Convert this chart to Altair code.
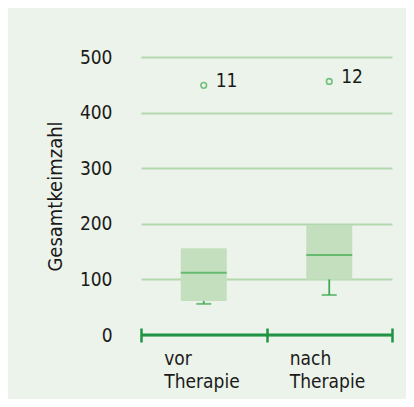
import altair as alt
import pandas as pd

# ---- data ----
groups = ["vor Therapie", "nach Therapie"]
q1 = [61, 100]
median = [112, 144]
q3 = [156, 198]
whisker_low = [56, 72]
outlier = [449, 456]
outlier_labels = ["11", "12"]
y_ticks = [0, 100, 200, 300, 400, 500]
x_edges = [0, 1, 2]

df = pd.DataFrame({
    "group": groups,
    "pos": [i + 0.5 for i in range(len(groups))],
    "q1": q1, "median": median, "q3": q3,
    "wlow": whisker_low, "out": outlier, "outlab": outlier_labels,
})
base_line = pd.DataFrame({"x0": [x_edges[0]], "x1": [x_edges[-1]], "y0": [0]})

FONT = "DejaVu Sans Condensed, sans-serif"
TXT = "#1a1a1a"
DARK = "#1f9445"
MID = "#3fab50"
GRID = "#b3d8b0"
BOXFILL = "#c4dfbd"
BG = "#ecf3ea"

xscale = alt.Scale(domain=[0, 2], nice=False, zero=False, padding=0)
yscale = alt.Scale(domain=[0, 500], nice=False, padding=0)

x_values = sorted(set(x_edges) | set(df["pos"]))
label_expr = ("datum.value == 0.5 ? split('%s', ' ') : datum.value == 1.5 ? split('%s', ' ') : ''"
              % (groups[0], groups[1]))

xaxis = alt.Axis(
    values=x_values, title=None, domain=False, grid=False, orient="bottom",
    ticks=True, tickSize=14, tickWidth=2.5, tickColor=DARK, offset=-7,
    tickOpacity=alt.ExprRef("datum.value % 1 == 0 ? 1 : 0"),
    labelExpr=label_expr, labelAlign="left", labelOffset=-40,
    labelBaseline="alphabetic", labelPadding=22, labelLineHeight=23,
    labelFont=FONT, labelFontSize=19, labelColor=TXT, labelOverlap=False,
    labelBound=False, labelFlush=False,
)
yaxis = alt.Axis(
    values=y_ticks, title="Gesamtkeimzahl", domain=False, ticks=False,
    grid=True, gridColor=GRID, gridWidth=1.8,
    labelFont=FONT, labelFontSize=19, labelColor=TXT, labelPadding=29,
    titleFont=FONT, titleFontSize=20, titleFontWeight="normal", titleColor=TXT,
    titleAngle=270, titleX=-86, titleY=139, titleAlign="center",
    titleBaseline="middle",
)


def X(field):
    return alt.X(field, type="quantitative", scale=xscale, axis=xaxis)


def Y(field):
    return alt.Y(field, type="quantitative", scale=yscale, axis=yaxis)


box = alt.Chart(df).mark_bar(size=46, orient="vertical", color=BOXFILL).encode(
    x=X("pos"), y=Y("q1"), y2="q3:Q",
)

median_tick = alt.Chart(df).mark_tick(orient="horizontal", size=46, thickness=2, color=MID).encode(
    x=X("pos"), y=Y("median"),
)

whisker = alt.Chart(df).mark_rule(color=MID, strokeWidth=1.8).encode(
    x=X("pos"), y=Y("wlow"), y2="q1:Q",
)

cap = alt.Chart(df).mark_tick(orient="horizontal", size=15, thickness=2, color=MID).encode(
    x=X("pos"), y=Y("wlow"),
)

points = alt.Chart(df).mark_point(shape="circle", filled=False, size=32, strokeWidth=1.6, color=MID).encode(
    x=X("pos"), y=Y("out"),
)

point_labels = alt.Chart(df).mark_text(align="left", baseline="middle", dx=12, dy=-4,
                                       font=FONT, fontSize=19, color=TXT).encode(
    x=X("pos"), y=Y("out"), text="outlab:N",
)

baseline_rule = alt.Chart(base_line).mark_rule(color=DARK, strokeWidth=3).encode(
    x=X("x0"), x2="x1:Q", y=Y("y0"),
)

chart = alt.layer(box, median_tick, whisker, cap, points, point_labels, baseline_rule).properties(
    width=251, height=278,
    autosize=alt.AutoSizeParams(type="none"),
    padding={"left": 133, "top": 49, "right": 14, "bottom": 64},
    background=BG,
).configure_view(stroke=None)

chart.save("out.html", embed_options={"renderer": "svg", "actions": False})
